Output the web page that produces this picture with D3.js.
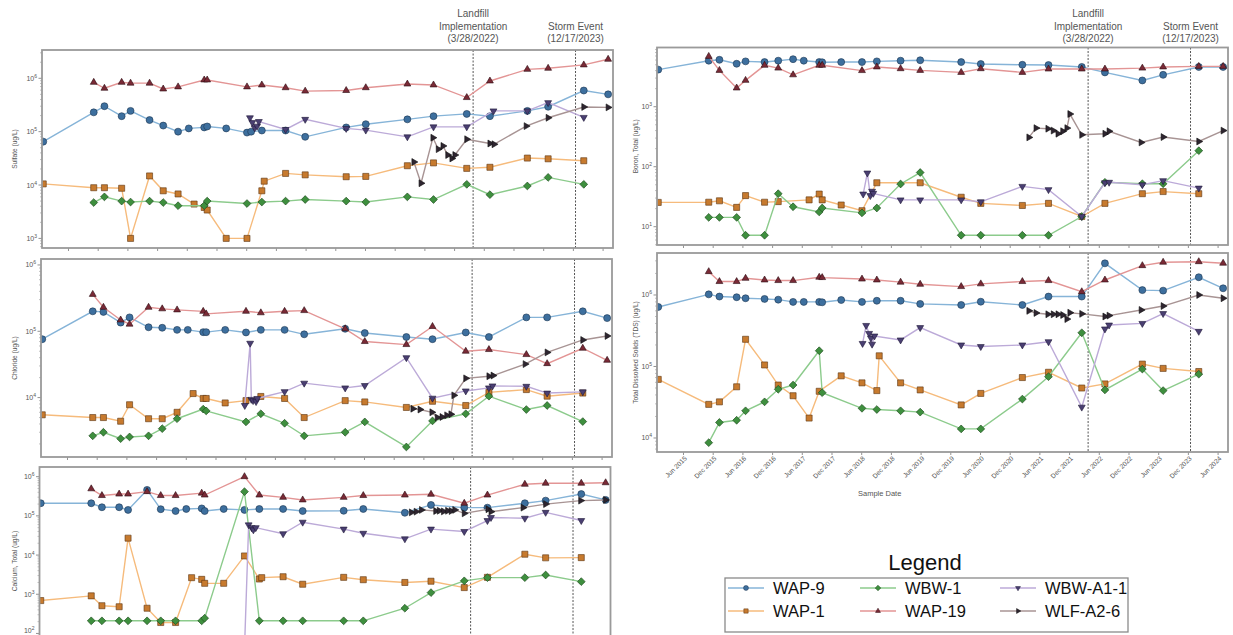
<!DOCTYPE html>
<html><head><meta charset="utf-8">
<script src="https://cdn.jsdelivr.net/npm/d3@7"></script>
<style>body{margin:0;background:#fff;} svg{display:block;font-family:"Liberation Sans",Arial,sans-serif;}</style>
</head><body><svg id="c" width="1233" height="635"></svg>
<script>
// ---------- series / categories ----------
const seriesNames = ["WAP-9","WAP-1","WBW-1","WAP-19","WBW-A1-1","WLF-A2-6"];
const xTickLabels = ["Jun 2015","Dec 2015","Jun 2016","Dec 2016","Jun 2017","Dec 2017","Jun 2018","Dec 2018","Jun 2019","Dec 2019","Jun 2020","Dec 2020","Jun 2021","Dec 2021","Jun 2022","Dec 2022","Jun 2023","Dec 2023","Jun 2024"];
const eventDates = [2022.237, 2023.961];
const eventLabels = [["Landfill","Implementation","(3/28/2022)"],["Storm Event","(12/17/2023)"]];

// sample dates (decimal years)
const A=2015.00,B=2015.85,C=2016.03,D=2016.32,E=2016.47,F=2016.79,G=2017.02,H=2017.27,I=2017.45,
      J=2017.71,K=2017.76,L=2018.08,M=2018.43,N=2018.68,O=2019.08,P=2019.41,Q=2020.10,R=2020.43,
      S=2021.13,T=2021.57,U=2022.13,V=2022.52,W=2023.15,X=2023.50,Y=2024.10,Z=2024.51;

// ---------- Sulfate (ug/L) ----------
const so4_WAP9 = [[A,65000],[B,230000],[C,300000],[D,195000],[E,245000],[F,165000],[G,130000],[H,100000],[I,115000],[J,120000],[K,125000],[L,115000],[M,96000],[2018.50,100000],[N,105000],[O,105000],[P,80000],[Q,120000],[R,138000],[S,170000],[T,195000],[U,215000],[V,195000],[W,245000],[X,293000],[Y,590000],[Z,500000]];
const so4_WAP1 = [[A,10500],[B,8900],[C,8900],[D,8700],[E,1000],[F,14800],[G,7800],[H,6800],[2017.54,4400],[J,3800],[K,3400],[L,1000],[M,1000],[N,7800],[2018.72,11800],[O,16500],[P,15500],[Q,14300],[R,14500],[S,23000],[T,26000],[U,20500],[V,21500],[W,32000],[X,31000],[Y,28500]];
const so4_WBW1 = [[B,4700],[C,6000],[D,5000],[E,4800],[F,5000],[G,4700],[H,4100],[J,4100],[K,5000],[M,4500],[N,4800],[O,5000],[P,5350],[Q,5000],[R,4800],[S,6000],[T,5350],[U,10300],[V,6600],[W,9600],[X,13900],[Y,10300]];
const so4_WAP19 = [[B,840000],[C,650000],[D,840000],[E,810000],[F,810000],[G,630000],[H,690000],[J,930000],[K,930000],[M,690000],[N,750000],[O,665000],[P,575000],[Q,590000],[R,665000],[S,780000],[T,750000],[U,435000],[V,890000],[W,1470000],[X,1540000],[Y,1780000],[Z,2270000]];
const so4_WBWA11 = [[2018.48,182000],[2018.52,148000],[2018.56,118000],[2018.60,127000],[2018.63,155000],[O,110000],[P,170000],[Q,115000],[R,107000],[S,80000],[T,123000],[U,123000],[2022.58,245000],[W,245000],[X,350000],[Y,185000]];
const so4_WLF = [[2021.24,27000],[2021.36,10800],[2021.56,77000],[2021.65,47000],[2021.73,54000],[2021.81,36500],[2021.88,31500],[2021.93,36500],[2022.13,72000],[2022.52,60000],[2022.59,58000],[2023.13,127000],[2023.50,182000],[2024.10,290000],[2024.51,285000]];

// ---------- Chloride (ug/L) ----------
const cl_WAP9 = [[A,76000],[B,200000],[C,196000],[D,135000],[E,162000],[F,115000],[G,113000],[H,105000],[I,105000],[J,97000],[K,97000],[L,105000],[M,96000],[N,105000],[O,105000],[P,90000],[Q,109000],[R,94000],[S,82000],[T,76000],[U,96000],[V,82000],[W,162000],[X,162000],[Y,200000],[Z,158000]];
const cl_WAP1 = [[A,5500],[B,5000],[C,5000],[D,4400],[E,7800],[F,4800],[G,4800],[H,6000],[2017.54,11500],[J,9700],[K,9700],[L,8300],[M,9000],[N,10400],[O,9700],[P,5000],[Q,9000],[R,8600],[S,7100],[T,8800],[U,7600],[V,12000],[W,13200],[X,10500],[Y,11700]];
const cl_WBW1 = [[B,2650],[C,3000],[D,2400],[E,2550],[F,2650],[G,3400],[H,4800],[J,6700],[K,6300],[M,4300],[N,5700],[O,4100],[P,2650],[Q,3000],[R,4300],[S,1800],[T,4450],[U,5700],[V,10500],[W,6600],[X,7600],[Y,4350]];
const cl_WAP19 = [[B,360000],[C,230000],[D,148000],[E,128000],[F,230000],[G,218000],[H,210000],[J,200000],[K,183000],[M,200000],[N,190000],[O,200000],[P,205000],[Q,109000],[R,70000],[S,63000],[T,118000],[U,50000],[V,53000],[W,44500],[X,32500],[Y,55500],[Z,36500]];
const cl_WBWA11 = [[2018.41,7600],[2018.50,66000],[2018.52,9400],[2018.55,9000],[2018.60,8700],[2018.62,9700],[O,12300],[P,16500],[Q,14000],[R,15200],[S,40000],[T,9800],[U,12600],[V,14000],[2022.58,15000],[W,14800],[X,11700],[Y,12200]];
const cl_WLF = [[2021.24,6800],[2021.36,6600],[2021.56,6000],[2021.65,5000],[2021.73,5100],[2021.81,5400],[2021.88,5600],[2021.93,10800],[2022.13,19500],[2022.52,21000],[2022.59,21500],[2023.13,32000],[2023.50,48000],[2024.10,74000],[2024.51,85000]];

// ---------- Calcium, Total (ug/L) ----------
const ca_WAP9 = [[A,210000],[B,210000],[C,166000],[D,166000],[E,142000],[F,460000],[G,148000],[H,133000],[I,150000],[J,155000],[K,133000],[L,150000],[M,142000],[N,150000],[O,150000],[P,133000],[Q,135000],[R,150000],[S,120000],[T,190000],[U,162000],[V,162000],[W,210000],[X,245000],[Y,360000],[Z,255000]];
const ca_WAP1 = [[A,690],[B,910],[C,510],[D,480],[E,27000],[F,440],[G,190],[H,190],[2017.54,2650],[J,2400],[K,1900],[L,1900],[M,9500],[N,2450],[2018.72,2650],[O,2800],[P,1800],[Q,2700],[R,2350],[S,2000],[T,2150],[U,1480],[V,2700],[W,10500],[X,8500],[Y,8600]];
const ca_WBW1 = [[B,210],[C,210],[D,210],[E,210],[F,210],[G,210],[H,210],[J,210],[K,245],[M,415000],[N,210],[O,210],[P,210],[Q,210],[R,210],[S,440],[T,1100],[U,2200],[V,2650],[W,2650],[X,3100],[Y,2100]];
const ca_WAP19 = [[B,490000],[C,330000],[D,360000],[E,360000],[F,415000],[G,330000],[H,330000],[J,380000],[K,340000],[M,1000000],[N,340000],[O,297000],[P,255000],[Q,297000],[R,330000],[S,340000],[T,355000],[U,210000],[V,340000],[W,640000],[X,680000],[Y,680000],[Z,700000]];
const ca_WBWA11 = [[2018.41,5],[2018.50,59000],[2018.55,50000],[2018.58,44000],[2018.62,50000],[O,35000],[P,69000],[Q,46000],[R,36000],[S,26000],[T,46000],[U,40000],[V,76000],[2022.58,91000],[W,87000],[X,123000],[Y,76000]];
const ca_WLF = [[2021.24,123000],[2021.32,128000],[2021.41,142000],[2021.65,133000],[2021.71,135000],[2021.78,130000],[2021.85,135000],[2021.91,133000],[2021.97,142000],[2022.13,116000],[2022.53,148000],[2022.58,128000],[2023.12,162000],[2023.50,200000],[2024.09,245000],[2024.51,255000]];

// ---------- Boron, Total (ug/L) ----------
const b_WAP9 = [[A,4150],[B,5850],[C,6050],[D,5200],[E,5700],[F,5550],[G,5850],[H,6200],[I,5850],[J,5550],[K,5500],[L,5550],[M,5550],[N,5700],[O,5850],[P,5950],[Q,5550],[R,5150],[S,5000],[T,4950],[U,4600],[V,3730],[W,2740],[X,3400],[Y,4600],[Z,4600]];
const b_WAP1 = [[A,25.4],[B,25.6],[C,27],[D,21],[E,33],[F,25.6],[G,26.2],[2017.54,28],[J,35],[K,28],[L,23],[M,18.5],[N,54],[P,54],[Q,31],[R,24.5],[S,22.6],[T,24.5],[U,14.8],[V,24.5],[W,35.5],[X,38.5],[Y,35.5]];
const b_WBW1 = [[B,14.3],[C,14.3],[D,14.3],[E,7.2],[F,7.2],[G,35.5],[H,21.5],[J,17.6],[K,20.5],[M,17],[N,20.5],[O,51.5],[P,80],[Q,7.2],[R,7.2],[S,7.2],[T,7.2],[U,14.8],[V,55],[W,52],[X,52],[Y,185]];
const b_WAP19 = [[B,6900],[C,4030],[D,2050],[E,2750],[F,4900],[G,4400],[H,3400],[J,4900],[K,4900],[M,4000],[N,4600],[O,4300],[P,4030],[Q,3730],[R,4300],[S,3730],[T,4250],[U,4250],[V,4250],[W,4400],[X,4600],[Y,4700],[Z,4700]];
const b_WBWA11 = [[2018.45,35],[2018.52,78.5],[2018.57,33],[2018.60,39],[2018.62,36],[O,28],[P,28],[Q,28],[R,26],[S,47],[T,41.5],[U,14.8],[V,54],[2022.59,55],[W,50],[X,58.5],[Y,44]];
const b_WLF = [[2021.24,308],[2021.36,440],[2021.56,430],[2021.65,400],[2021.73,355],[2021.81,390],[2021.88,440],[2021.93,755],[2022.13,340],[2022.52,355],[2022.59,390],[2023.13,254],[2023.50,312],[2024.10,263],[2024.51,400]];

// ---------- Total Dissolved Solids (ug/L) ----------
const tds_WAP9 = [[A,680000],[B,1020000],[C,950000],[D,930000],[E,900000],[F,880000],[G,860000],[H,800000],[I,800000],[J,800000],[K,790000],[L,850000],[M,800000],[N,830000],[O,830000],[P,750000],[Q,725000],[R,805000],[S,725000],[T,950000],[U,950000],[V,2770000],[W,1170000],[X,1150000],[Y,1770000],[Z,1240000]];
const tds_WAP1 = [[A,66000],[B,29500],[C,32000],[D,52000],[E,240000],[F,105000],[G,55000],[H,39000],[2017.54,19000],[J,45000],[L,74000],[M,59000],[N,46000],[2018.72,141000],[O,59000],[P,47000],[Q,29000],[R,42000],[S,70000],[T,83000],[U,50000],[V,57000],[W,108000],[X,94000],[Y,85000]];
const tds_WBW1 = [[B,8600],[C,16500],[D,17700],[E,24000],[F,32000],[G,48000],[H,55000],[J,166000],[K,43000],[M,26000],[N,25000],[O,24000],[P,23000],[Q,13400],[R,13400],[S,35000],[T,72000],[U,296000],[V,47000],[W,92000],[X,46000],[Y,78000]];
const tds_WAP19 = [[B,2120000],[C,1540000],[D,1540000],[E,1710000],[F,1620000],[G,1590000],[H,1590000],[J,1770000],[K,1750000],[M,1670000],[N,1620000],[O,1510000],[P,1410000],[Q,1310000],[R,1430000],[S,1540000],[T,1590000],[U,1110000],[V,1620000],[W,2570000],[X,2870000],[Y,2920000],[Z,2780000]];
const tds_WBWA11 = [[2018.44,210000],[2018.50,375000],[2018.55,290000],[2018.58,250000],[2018.60,205000],[2018.64,267000],[O,235000],[P,350000],[Q,200000],[R,190000],[S,200000],[T,222000],[U,27000],[V,335000],[2022.59,380000],[W,400000],[X,550000],[Y,310000]];
const tds_WLF = [[2021.24,600000],[2021.36,560000],[2021.56,537000],[2021.65,537000],[2021.73,537000],[2021.81,525000],[2021.88,460000],[2021.93,565000],[2022.13,545000],[2022.52,500000],[2022.59,515000],[2023.13,617000],[2023.50,700000],[2024.10,1000000],[2024.51,900000]];

// ---------- styles ----------
const lineColors   = ["#86b4d8","#f6bb7c","#8ccb8c","#e39595","#bcaad8","#a89494"];
const markerFills  = ["#3d6f9e","#c77a2e","#3e8f3e","#7a2a36","#4a3f72","#2e2530"];
const markerEdges  = ["#1d3550","#5a3410","#1a451a","#2a0a10","#1e1838","#111111"];
const markerKinds  = ["circle","square","diamond","up","down","right"];

const panels = [
  {label:"Sulfate (ug/L)", data:[so4_WAP9,so4_WAP1,so4_WBW1,so4_WAP19,so4_WBWA11,so4_WLF], x0:42, top:50, bottom:248, lo:2.82, hi:6.53, yt:[3,4,5,6], side:"L", annotate:true},
  {label:"Chloride (ug/L)", data:[cl_WAP9,cl_WAP1,cl_WBW1,cl_WAP19,cl_WBWA11,cl_WLF], x0:41, top:259, bottom:457, lo:3.104, hi:6.09, yt:[4,5,6], side:"L"},
  {label:"Calcium, Total (ug/L)", data:[ca_WAP9,ca_WAP1,ca_WBW1,ca_WAP19,ca_WBWA11,ca_WLF], x0:39.5, top:467, bottom:655, lo:1.45, hi:6.247, yt:[2,3,4,5,6], side:"L"},
  {label:"Boron, Total (ug/L)", data:[b_WAP9,b_WAP1,b_WBW1,b_WAP19,b_WBWA11,b_WLF], x0:657, top:47.5, bottom:245, lo:0.695, hi:3.987, yt:[1,2,3], side:"R", annotate:true},
  {label:"Total Dissolved Solids (TDS) (ug/L)", data:[tds_WAP9,tds_WAP1,tds_WBW1,tds_WAP19,tds_WBWA11,tds_WLF], x0:657, top:253, bottom:452, lo:3.804, hi:6.587, yt:[4,5,6], side:"R", xlabels:true}
];
const PW = 571;
const X_DOMAIN = [2014.979, 2024.592];
const tickVals = xTickLabels.map(s => +s.slice(4) + (s.startsWith("Jun") ? 5/12 : 11/12));

const svg = d3.select("#c");
const defs = svg.append("defs");

function symbolPath(kind, s){
  switch(kind){
    case "circle": return d3.symbol(d3.symbolCircle, s*s*0.78)();
    case "square": return d3.symbol(d3.symbolSquare, s*s*0.75)();
    case "diamond": return d3.symbol(d3.symbolSquare, s*s*0.62)();
    default: return d3.symbol(d3.symbolTriangle, s*s*0.42)();
  }
}
function symbolRot(kind){
  return {diamond:45, down:180, right:90}[kind] || 0;
}

panels.forEach((p, pi) => {
  const x = d3.scaleLinear().domain(X_DOMAIN).range([p.x0, p.x0 + PW]);
  const y = d3.scaleLog().domain([Math.pow(10,p.lo), Math.pow(10,p.hi)]).range([p.bottom, p.top]);
  const g = svg.append("g");
  defs.append("clipPath").attr("id","clip"+pi).append("rect")
    .attr("x",p.x0).attr("y",p.top).attr("width",PW).attr("height",p.bottom-p.top);

  // x axis ticks
  const xa = d3.axisBottom(x).tickValues(tickVals).tickSize(3).tickSizeOuter(0)
    .tickFormat((d,i) => p.xlabels ? xTickLabels[i] : "");
  const xg = g.append("g").attr("transform",`translate(0,${p.bottom})`).call(xa);
  xg.select(".domain").remove();
  xg.selectAll("line").attr("stroke","#777").attr("stroke-width",0.8);
  xg.selectAll("text").attr("fill","#555").attr("font-size",6.6)
    .attr("text-anchor","end").attr("dx","0.3em").attr("dy","0.5em")
    .attr("transform", "rotate(-45, 0, 6)");

  // y axis major + minor
  const majors = p.yt.map(e => Math.pow(10,e));
  const minors = [];
  for (let e = Math.floor(p.lo); e <= Math.ceil(p.hi); e++)
    for (let m = 2; m <= 9; m++){ const v = m*Math.pow(10,e); if (Math.log10(v) > p.lo && Math.log10(v) < p.hi) minors.push(v); }
  g.append("g").selectAll("line").data(minors).join("line")
    .attr("x1",p.x0-2).attr("x2",p.x0).attr("y1",d=>y(d)).attr("y2",d=>y(d))
    .attr("stroke","#999").attr("stroke-width",0.6);
  g.append("g").selectAll("line").data(majors).join("line")
    .attr("x1",p.x0-3.5).attr("x2",p.x0).attr("y1",d=>y(d)).attr("y2",d=>y(d))
    .attr("stroke","#777").attr("stroke-width",0.8);
  const yl = g.append("g").selectAll("text").data(p.yt).join("text")
    .attr("x",p.x0-5).attr("y",e=>Math.min(y(Math.pow(10,e))+2.5, 633))
    .attr("text-anchor","end").attr("font-size",7).attr("fill","#555");
  yl.text("10").append("tspan").attr("dy",-3).attr("font-size",5).text(e=>e);

  // y label
  const lx = p.side === "L" ? 17 : 638;
  g.append("text").attr("transform",`translate(${lx},${(p.top+p.bottom)/2}) rotate(-90)`)
    .attr("text-anchor","middle").attr("font-size",6.6).attr("fill","#555").text(p.label);

  // event lines
  g.append("g").attr("clip-path",`url(#clip${pi})`).selectAll("line").data(eventDates).join("line")
    .attr("x1",d=>x(d)).attr("x2",d=>x(d)).attr("y1",p.top).attr("y2",p.bottom)
    .attr("stroke","#555").attr("stroke-width",1).attr("stroke-dasharray","2,1.5");

  // series
  const plot = g.append("g").attr("clip-path",`url(#clip${pi})`);
  p.data.forEach((ser, si) => {
    plot.append("path").datum(ser)
      .attr("d", d3.line().x(d=>x(d[0])).y(d=>y(d[1])))
      .attr("fill","none").attr("stroke",lineColors[si]).attr("stroke-width",1.4);
    const k = markerKinds[si];
    plot.append("g").selectAll("path").data(ser).join("path")
      .attr("d", symbolPath(k, 7))
      .attr("transform", d => `translate(${x(d[0])},${y(d[1])}) rotate(${symbolRot(k)})`)
      .attr("fill",markerFills[si]).attr("stroke",markerEdges[si]).attr("stroke-width",0.6);
  });

  // frame
  g.append("rect").attr("x",p.x0).attr("y",p.top).attr("width",PW).attr("height",p.bottom-p.top)
    .attr("fill","none").attr("stroke","#9a9a9a").attr("stroke-width",1.8);

  // annotations
  if (p.annotate){
    eventDates.forEach((d, ei) => {
      const lines = eventLabels[ei];
      lines.forEach((t, li) => {
        g.append("text").attr("x", x(d)).attr("y", 17 + 12.5*(3 - lines.length + li))
          .attr("text-anchor","middle").attr("font-size",10).attr("fill","#555").text(t);
      });
    });
  }
  if (p.xlabels){
    g.append("text").attr("x", p.x0 + PW*0.39).attr("y", 496).attr("text-anchor","middle")
      .attr("font-size",7.5).attr("fill","#555").text("Sample Date");
  }
});

// legend
const lg = svg.append("g");
lg.append("text").attr("x",925).attr("y",570).attr("text-anchor","middle").attr("font-size",22).attr("fill","#111").text("Legend");
lg.append("rect").attr("x",725).attr("y",578).attr("width",403).attr("height",54).attr("fill","#fff").attr("stroke","#8a8a8a").attr("stroke-width",1.3);
const colX = [728, 860, 1000], rowY = [588, 611];
seriesNames.forEach((name, si) => {
  const cx = colX[Math.floor(si/2)], cy = rowY[si%2];
  lg.append("line").attr("x1",cx).attr("x2",cx+36).attr("y1",cy).attr("y2",cy).attr("stroke",lineColors[si]).attr("stroke-width",1.4);
  const k = markerKinds[si];
  lg.append("path").attr("d", symbolPath(k,5)).attr("transform",`translate(${cx+18},${cy}) rotate(${symbolRot(k)})`)
    .attr("fill",markerFills[si]).attr("stroke",markerEdges[si]).attr("stroke-width",0.5);
  lg.append("text").attr("x",cx+45).attr("y",cy+6).attr("font-size",16.5).attr("fill","#111").text(name);
});
</script></body></html>
